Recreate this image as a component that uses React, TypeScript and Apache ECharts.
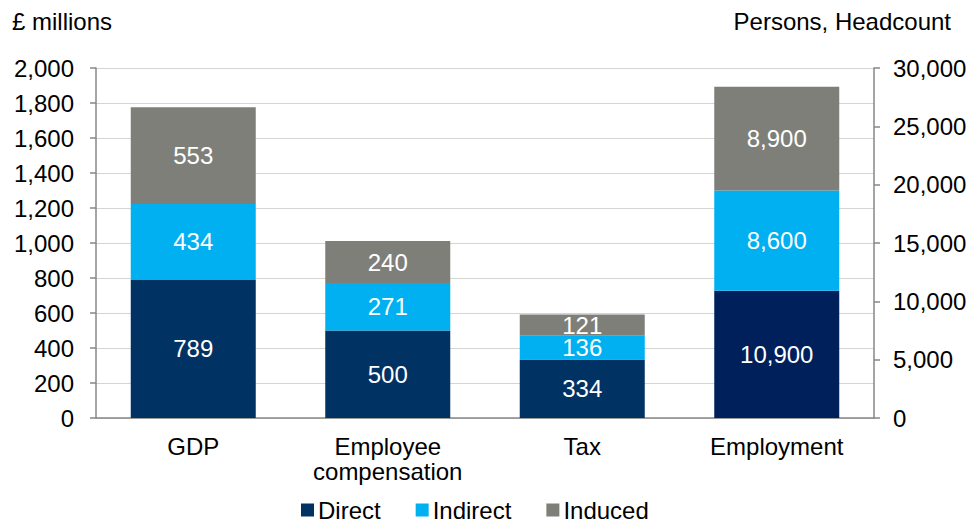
import React, { useEffect, useRef } from "react";
import * as echarts from "echarts";

const categories = ["GDP", "Employee\ncompensation", "Tax", "Employment"];
const seriesNames = ["Direct", "Indirect", "Induced"];
// £ millions (left axis)
const directMoney = [789, 500, 334, null];
const indirectMoney = [434, 271, 136, null];
const inducedMoney = [553, 240, 121, null];
// Persons, headcount (right axis)
const directPersons = [null, null, null, 10900];
const indirectPersons = [null, null, null, 8600];
const inducedPersons = [null, null, null, 8900];

const leftTitle = "£ millions";
const rightTitle = "Persons, Headcount";

const FONT = "Liberation Sans, Arial, sans-serif";
const COLORS = ["#003263", "#00b0f0", "#7f7f7a"];
const EMP_DIRECT = "#00205c";

export default function App() {
  const ref = useRef<HTMLDivElement>(null);
  useEffect(() => {
    if (!ref.current) return;
    const chart = echarts.init(ref.current, null, { renderer: "svg" });
    const label = {
      show: true,
      position: "inside",
      color: "#ffffff",
      fontSize: 24,
      lineHeight: 20,
      fontFamily: FONT,
      formatter: (p: any) => (p.value == null ? "" : Number(p.value).toLocaleString("en-GB")),
    };
    const mk = (name: string, data: any[], axis: number, color: string, stack: string) => ({
      name,
      type: "bar",
      stack,
      yAxisIndex: axis,
      data,
      barWidth: 125,
      barGap: "-100%",
      itemStyle: { color },
      label,
    });
    const axisLabel = (margin: number) => ({
      fontSize: 24,
      color: "#000",
      margin,
      fontFamily: FONT,
      formatter: (v: number) => v.toLocaleString("en-GB"),
    });
    chart.setOption({
      animation: false,
      textStyle: { fontFamily: FONT },
      grid: { left: 96, right: 104, top: 68, bottom: 104 },
      legend: {
        data: seriesNames,
        top: 498,
        left: 301,
        padding: 0,
        itemWidth: 13,
        itemHeight: 13,
        itemGap: 35,
        icon: "rect",
        textStyle: { fontSize: 24, lineHeight: 22, color: "#000", fontFamily: FONT, padding: [0, 0, 0, -1] },
      },
      graphic: [
        { type: "text", left: 12, top: 9, style: { text: leftTitle, fontSize: 24, fill: "#000", fontFamily: FONT } },
        { type: "text", right: 27, top: 9, style: { text: rightTitle, fontSize: 24, fill: "#000", fontFamily: FONT } },
      ],
      xAxis: {
        type: "category",
        data: categories,
        axisLine: { lineStyle: { color: "#878787", width: 1.5 } },
        axisTick: { show: false },
        axisLabel: { fontSize: 24, color: "#000", margin: 16, lineHeight: 25, fontFamily: FONT },
      },
      yAxis: [
        {
          type: "value",
          min: 0,
          max: 2000,
          interval: 200,
          axisLine: { show: true, lineStyle: { color: "#878787", width: 1.5 } },
          axisTick: { show: true, length: 6, lineStyle: { color: "#878787", width: 1.5 } },
          axisLabel: axisLabel(22),
          splitLine: { show: true, lineStyle: { color: "#d4d4d0", width: 1.2 } },
        },
        {
          type: "value",
          min: 0,
          max: 30000,
          interval: 5000,
          position: "right",
          axisLine: { show: true, lineStyle: { color: "#878787", width: 1.5 } },
          axisTick: { show: true, length: 6, lineStyle: { color: "#878787", width: 1.5 } },
          axisLabel: axisLabel(19),
          splitLine: { show: false },
        },
      ],
      series: [
        mk(seriesNames[0], directMoney, 0, COLORS[0], "money"),
        mk(seriesNames[1], indirectMoney, 0, COLORS[1], "money"),
        mk(seriesNames[2], inducedMoney, 0, COLORS[2], "money"),
        mk(seriesNames[0], directPersons, 1, EMP_DIRECT, "persons"),
        mk(seriesNames[1], indirectPersons, 1, COLORS[1], "persons"),
        mk(seriesNames[2], inducedPersons, 1, COLORS[2], "persons"),
      ],
    });
    return () => chart.dispose();
  }, []);
  return <div ref={ref} style={{ width: 978, height: 522, position: "absolute", left: 0, top: 0 }} />;
}
